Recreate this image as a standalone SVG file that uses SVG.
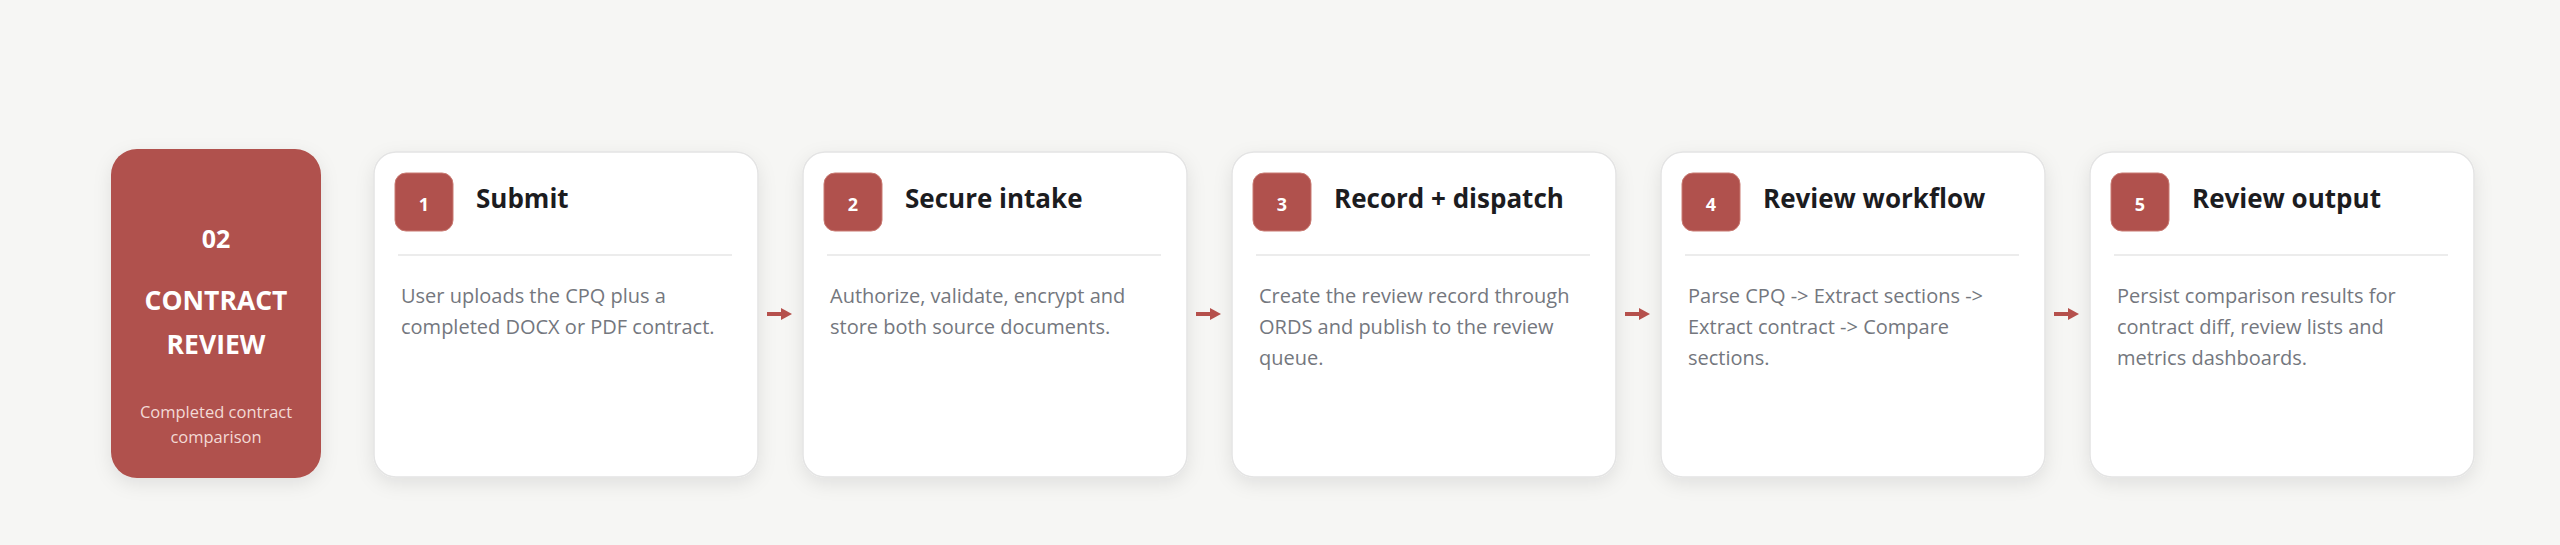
<svg xmlns="http://www.w3.org/2000/svg" width="2560" height="545" viewBox="0 0 2560 545">
<defs>
<filter id="sh" x="-20%" y="-20%" width="140%" height="150%">
<feDropShadow dx="0" dy="6" stdDeviation="9" flood-color="#000" flood-opacity="0.09"/>
</filter>
<marker id="ah" markerWidth="11" markerHeight="12" refX="1" refY="6" orient="auto" markerUnits="userSpaceOnUse">
<path d="M0,0 L11,6 L0,12 Z" fill="#b5504c"/>
</marker>
<style>
.card{fill:#ffffff;stroke:#e4e4e4;stroke-width:1.5;filter:url(#sh)}
.badge{fill:#b0514d;stroke:#c97a72;stroke-width:1}
.num{font-family:"Open Sans","Noto Sans",sans-serif;font-weight:700;font-size:18px;fill:#ffffff;text-anchor:middle}
.title{font-family:"Open Sans","Noto Sans",sans-serif;font-weight:700;font-size:26px;fill:#1c1c1f}
.body{font-family:"Open Sans","Noto Sans",sans-serif;font-size:20px;fill:#74777e}
.div{stroke:#ececec;stroke-width:2}
.arrow{stroke:#b5504c;stroke-width:4;fill:none}
.lbl{font-family:"Open Sans","Noto Sans",sans-serif;font-weight:700;fill:#ffffff;text-anchor:middle}
.sub{font-family:"Open Sans","Noto Sans",sans-serif;font-size:16.5px;fill:#f3dad6;text-anchor:middle}
</style>
</defs>
<rect width="2560" height="545" fill="#f6f6f4"/>
<g id="stage">
<rect x="111" y="149" width="210" height="329" rx="26" fill="#b0514d" filter="url(#sh)"/>
<text class="lbl" x="216" y="248" font-size="25">02</text>
<text class="lbl" x="216" y="310" font-size="26.5">CONTRACT</text>
<text class="lbl" x="216" y="354" font-size="26.5">REVIEW</text>
<text class="sub" x="216" y="418">Completed contract</text>
<text class="sub" x="216" y="443">comparison</text>
</g>
<g id="step1">
<rect class="card" x="374" y="152" width="384" height="325" rx="22"/>
<rect class="badge" x="395" y="173" width="58" height="58" rx="11"/>
<text class="num" x="424" y="211">1</text>
<text class="title" x="476" y="208">Submit</text>
<line class="div" x1="398" y1="255" x2="732" y2="255"/>
<text class="body" x="401" y="303">User uploads the CPQ plus a</text>
<text class="body" x="401" y="334">completed DOCX or PDF contract.</text>
</g>
<g id="step2">
<rect class="card" x="803" y="152" width="384" height="325" rx="22"/>
<rect class="badge" x="824" y="173" width="58" height="58" rx="11"/>
<text class="num" x="853" y="211">2</text>
<text class="title" x="905" y="208">Secure intake</text>
<line class="div" x1="827" y1="255" x2="1161" y2="255"/>
<text class="body" x="830" y="303">Authorize, validate, encrypt and</text>
<text class="body" x="830" y="334">store both source documents.</text>
</g>
<g id="step3">
<rect class="card" x="1232" y="152" width="384" height="325" rx="22"/>
<rect class="badge" x="1253" y="173" width="58" height="58" rx="11"/>
<text class="num" x="1282" y="211">3</text>
<text class="title" x="1334" y="208">Record + dispatch</text>
<line class="div" x1="1256" y1="255" x2="1590" y2="255"/>
<text class="body" x="1259" y="303">Create the review record through</text>
<text class="body" x="1259" y="334">ORDS and publish to the review</text>
<text class="body" x="1259" y="365">queue.</text>
</g>
<g id="step4">
<rect class="card" x="1661" y="152" width="384" height="325" rx="22"/>
<rect class="badge" x="1682" y="173" width="58" height="58" rx="11"/>
<text class="num" x="1711" y="211">4</text>
<text class="title" x="1763" y="208">Review workflow</text>
<line class="div" x1="1685" y1="255" x2="2019" y2="255"/>
<text class="body" x="1688" y="303">Parse CPQ -&gt; Extract sections -&gt;</text>
<text class="body" x="1688" y="334">Extract contract -&gt; Compare</text>
<text class="body" x="1688" y="365">sections.</text>
</g>
<g id="step5">
<rect class="card" x="2090" y="152" width="384" height="325" rx="22"/>
<rect class="badge" x="2111" y="173" width="58" height="58" rx="11"/>
<text class="num" x="2140" y="211">5</text>
<text class="title" x="2192" y="208">Review output</text>
<line class="div" x1="2114" y1="255" x2="2448" y2="255"/>
<text class="body" x="2117" y="303">Persist comparison results for</text>
<text class="body" x="2117" y="334">contract diff, review lists and</text>
<text class="body" x="2117" y="365">metrics dashboards.</text>
</g>
<g id="connectors">
<line class="arrow" x1="767" y1="314" x2="782" y2="314" marker-end="url(#ah)"/>
<line class="arrow" x1="1196" y1="314" x2="1211" y2="314" marker-end="url(#ah)"/>
<line class="arrow" x1="1625" y1="314" x2="1640" y2="314" marker-end="url(#ah)"/>
<line class="arrow" x1="2054" y1="314" x2="2069" y2="314" marker-end="url(#ah)"/>
</g>
</svg>
